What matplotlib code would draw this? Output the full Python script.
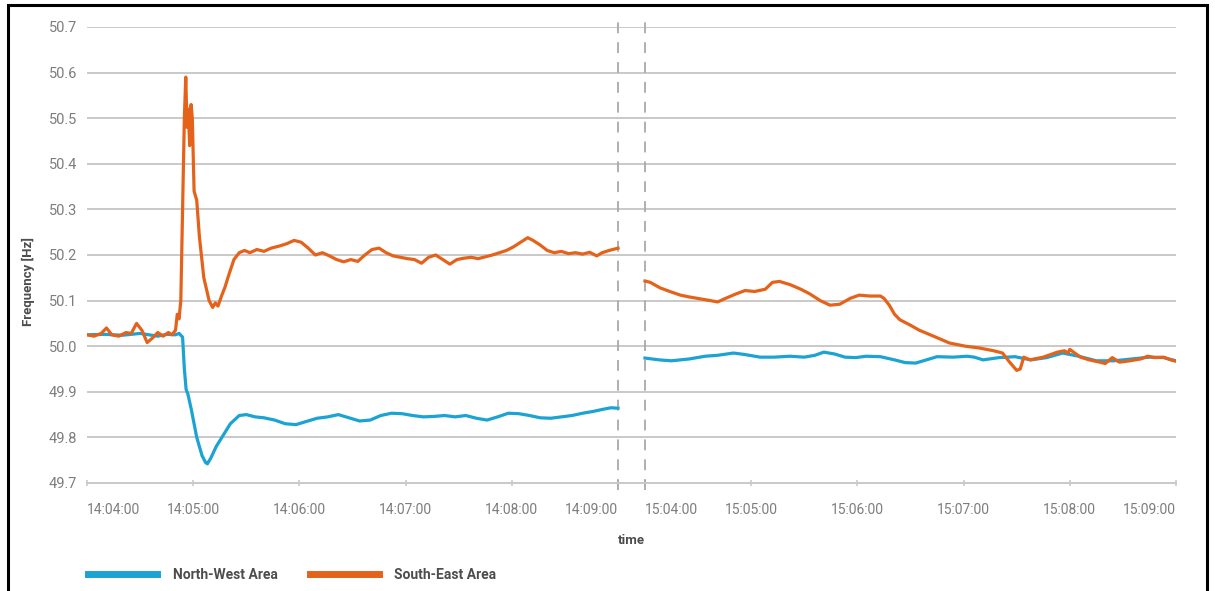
import matplotlib
matplotlib.use("Agg")
import matplotlib.pyplot as plt
from matplotlib.patches import Rectangle
from matplotlib.lines import Line2D

# ---------------- data ----------------
# seconds after 14:04:00 (first block) / 15:04:00 (second block)
se_t1 = [0, 4, 8, 11, 14, 18, 22, 25, 28, 31, 34, 37, 40, 43, 46, 48, 50, 51, 52, 53,
         54, 55, 55.8, 56.5, 57.2, 58, 58.8, 59.5, 60.5, 62, 63.5, 66, 69, 71, 72.5, 74,
         76, 78, 80, 83, 86, 89, 92, 96, 100, 104, 109, 113, 117, 121, 125, 129, 133,
         137, 141, 145, 149, 153, 157, 161, 165, 169, 173, 177, 181, 185, 189, 193, 197,
         201, 205, 209, 213, 217, 221, 225, 229, 233, 237, 241, 245, 249, 252, 256, 260,
         264, 268, 272, 276, 280, 284, 288, 291, 295, 300]
se_f1 = [50.025, 50.022, 50.028, 50.04, 50.025, 50.022, 50.03, 50.028, 50.05, 50.035,
         50.008, 50.018, 50.03, 50.022, 50.03, 50.025, 50.035, 50.07, 50.06, 50.10,
         50.30, 50.50, 50.59, 50.48, 50.52, 50.44, 50.53, 50.50, 50.34, 50.32, 50.24,
         50.15, 50.10, 50.085, 50.095, 50.088, 50.11, 50.13, 50.155, 50.19, 50.205,
         50.21, 50.205, 50.212, 50.208, 50.215, 50.22, 50.225, 50.232, 50.228, 50.215,
         50.20, 50.205, 50.198, 50.19, 50.185, 50.19, 50.186, 50.20, 50.212, 50.215,
         50.205, 50.198, 50.195, 50.192, 50.19, 50.182, 50.195, 50.20, 50.19, 50.18,
         50.19, 50.193, 50.195, 50.192, 50.196, 50.20, 50.205, 50.21, 50.218, 50.228,
         50.238, 50.232, 50.222, 50.21, 50.205, 50.208, 50.203, 50.205, 50.202, 50.206,
         50.198, 50.205, 50.21, 50.215]

nw_t1 = [0, 10, 20, 30, 40, 45, 50, 52, 54, 55, 56, 57, 59, 62, 65, 67, 68, 70, 73, 77,
         81, 86, 90, 95, 100, 106, 112, 118, 124, 130, 136, 142, 148, 154, 160, 166,
         172, 178, 184, 190, 196, 202, 208, 214, 220, 226, 232, 238, 244, 250, 256,
         262, 268, 274, 280, 286, 292, 296, 300]
nw_f1 = [50.025, 50.026, 50.024, 50.028, 50.022, 50.026, 50.025, 50.028, 50.02, 49.95,
         49.905, 49.895, 49.86, 49.80, 49.76, 49.745, 49.742, 49.755, 49.78, 49.805,
         49.83, 49.848, 49.85, 49.845, 49.843, 49.838, 49.83, 49.828, 49.835, 49.842,
         49.845, 49.85, 49.843, 49.836, 49.838, 49.848, 49.853, 49.852, 49.848, 49.845,
         49.846, 49.848, 49.845, 49.848, 49.842, 49.838, 49.845, 49.853, 49.852, 49.848,
         49.843, 49.842, 49.845, 49.848, 49.853, 49.857, 49.862, 49.865, 49.864]

se_t2 = [0, 3, 8.5, 14, 20, 25, 31, 37, 41, 45, 51, 56.5, 62, 68, 72, 76, 82, 88, 93,
         99, 104.5, 110, 116, 121, 127, 133, 135, 138, 141, 144, 150, 155, 163, 172,
         181, 189, 197, 202, 206, 210, 212, 214, 217.5, 225, 233, 237, 239, 240, 246,
         251, 257, 260, 264, 268, 274, 280, 284, 288, 293, 297, 300]
se_f2 = [50.143, 50.14, 50.128, 50.12, 50.112, 50.108, 50.104, 50.10, 50.097, 50.104,
         50.114, 50.122, 50.12, 50.125, 50.14, 50.142, 50.135, 50.125, 50.115, 50.10,
         50.09, 50.092, 50.105, 50.112, 50.11, 50.11, 50.105, 50.09, 50.07, 50.058,
         50.046, 50.035, 50.022, 50.007, 50.0, 49.996, 49.99, 49.985, 49.965, 49.947,
         49.95, 49.976, 49.97, 49.976, 49.987, 49.99, 49.985, 49.993, 49.976, 49.97,
         49.965, 49.962, 49.975, 49.965, 49.968, 49.972, 49.978, 49.975, 49.976, 49.97,
         49.967]

nw_t2 = [0, 8, 15, 25, 34, 41, 50, 56, 65, 73, 82, 90, 96, 101, 107, 113, 119, 125,
         133, 141, 147, 153, 159, 165, 174, 182, 186, 191, 200, 209, 218, 227, 236,
         245, 255, 265, 275, 285, 293, 300]
nw_f2 = [49.974, 49.97, 49.968, 49.972, 49.978, 49.98, 49.985, 49.982, 49.976, 49.976,
         49.978, 49.976, 49.98, 49.987, 49.983, 49.976, 49.975, 49.978, 49.977, 49.97,
         49.964, 49.963, 49.97, 49.977, 49.976, 49.978, 49.976, 49.97, 49.975, 49.977,
         49.97, 49.975, 49.985, 49.978, 49.968, 49.968, 49.972, 49.976, 49.975, 49.968]

tick_labels_1 = ["14:04:00", "14:05:00", "14:06:00", "14:07:00", "14:08:00", "14:09:00"]
tick_labels_2 = ["15:04:00", "15:05:00", "15:06:00", "15:07:00", "15:08:00", "15:09:00"]
y_ticks = [49.7, 49.8, 49.9, 50.0, 50.1, 50.2, 50.3, 50.4, 50.5, 50.6, 50.7]
series_names = ["North-West Area", "South-East Area"]

# ---------------- style ----------------
BLUE = "#1ba3d3"
ORANGE = "#e5621a"
GRID = "#c9c9c9"
TXT = "#7d7d7d"
TITLE = "#4d4d4d"
GAP = 0.254  # minutes of blank space between the two recording blocks

W, H = 1215, 591
fig = plt.figure(figsize=(W / 100, H / 100), dpi=100)
plt.rcParams['font.family'] = ['Roboto', 'DejaVu Sans']

ax = fig.add_axes([87 / W, 1 - 483 / H, (1176 - 87) / W, (483 - 27) / H])

def xs1(ts):
    return [t / 60.0 for t in ts]

def xs2(ts):
    return [5 + GAP + t / 60.0 for t in ts]

lw = 2.3
ax.plot(xs1(nw_t1), nw_f1, color=BLUE, lw=lw, zorder=3, solid_joinstyle='round')
ax.plot(xs2(nw_t2), nw_f2, color=BLUE, lw=lw, zorder=3, solid_joinstyle='round')
ax.plot(xs1(se_t1), se_f1, color=ORANGE, lw=lw, zorder=4, solid_joinstyle='round')
ax.plot(xs2(se_t2), se_f2, color=ORANGE, lw=lw, zorder=4, solid_joinstyle='round')

ax.set_xlim(0, 10 + GAP)
ax.set_ylim(49.7, 50.7)
ax.set_yticks(y_ticks)
ax.set_yticklabels([f"{v:.1f}" for v in y_ticks])
ax.yaxis.grid(True, color=GRID, lw=1.4)
ax.set_axisbelow(True)
for s in ["top", "right", "left"]:
    ax.spines[s].set_visible(False)
ax.spines["bottom"].set_color(GRID)
ax.spines["bottom"].set_linewidth(1.4)
ax.tick_params(axis="y", length=0, pad=7, labelsize=10.5, labelcolor=TXT)

xt = list(range(6)) + [5 + GAP + i for i in range(6)]
ax.set_xticks(xt)
ax.set_xticklabels(tick_labels_1 + tick_labels_2)
ax.tick_params(axis="x", length=5, direction="inout", color=GRID, width=1.2,
               pad=12, labelsize=10, labelcolor=TXT)
labs = ax.get_xticklabels()
labs[0].set_horizontalalignment("left")
labs[5].set_horizontalalignment("right")
labs[6].set_horizontalalignment("left")
labs[11].set_horizontalalignment("right")

# dashed separators
for xv in (5, 5 + GAP):
    ax.axvline(xv, ymin=-0.015, ymax=1.028, color="#a9a9a9", lw=1.3,
               dashes=(6, 5), clip_on=False, zorder=2)

fig.text(631 / W, 1 - 541 / H, "time", ha="center", va="center",
         fontsize=9.5, fontweight="bold", color=TITLE)
fig.text(28 / W, 1 - 282 / H, "Frequency [Hz]", ha="center", va="center",
         rotation=90, fontsize=9.5, fontweight="bold", color=TITLE)

handles = [Line2D([], [], color=BLUE, lw=5), Line2D([], [], color=ORANGE, lw=5)]
leg = fig.legend(handles, series_names, loc="center left",
                 bbox_to_anchor=(88 / W, 1 - 575 / H), ncol=2, frameon=False,
                 handlelength=5.0, handletextpad=1.1, columnspacing=2.3,
                 borderpad=0, borderaxespad=0,
                 prop={"weight": "bold", "size": 10})
for t in leg.get_texts():
    t.set_color(TITLE)

# outer frame
fig.patches.append(Rectangle((8 / W, -0.02), (1207 - 8) / W, 1 - 5 / H + 0.02,
                             transform=fig.transFigure, fill=False,
                             edgecolor="black", lw=2.2))

fig.savefig("out.png", dpi=100)
